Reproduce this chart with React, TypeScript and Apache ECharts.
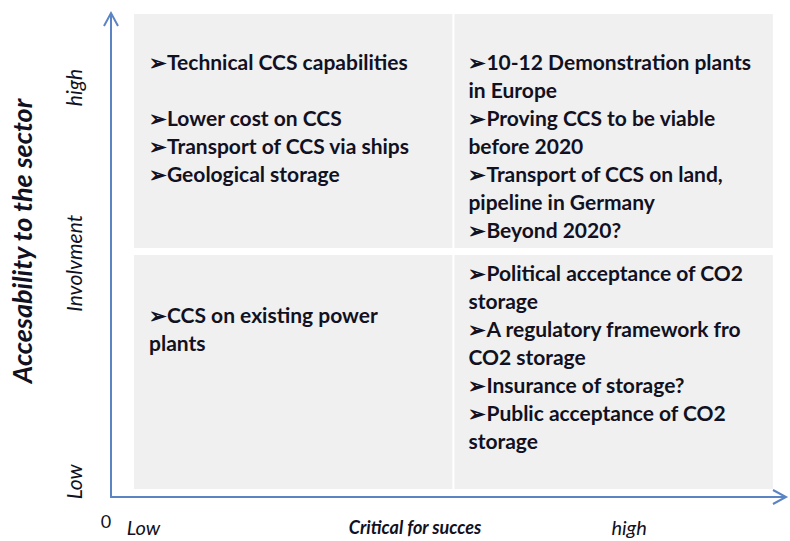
import React, { useEffect, useRef } from "react";
import * as echarts from "echarts";

// Quadrant grid cells (column = critical for success, row = accessibility)
const quadrantCols = [0, 1, 0, 1];
const quadrantRows = [1, 1, 0, 0];
const quadrantLines: string[][] = [
  ["➢Technical CCS capabilities", "", "➢Lower cost on CCS", "➢Transport of CCS via ships", "➢Geological storage"],
  [
    "➢10-12 Demonstration plants",
    "in Europe",
    "➢Proving CCS to be viable",
    "before 2020",
    "➢Transport of CCS on land,",
    "pipeline in Germany",
    "➢Beyond 2020?",
  ],
  ["➢CCS on existing power", "plants"],
  [
    "➢Political acceptance of CO2",
    "storage",
    "➢A regulatory framework fro",
    "CO2 storage",
    "➢Insurance of storage?",
    "➢Public acceptance of CO2",
    "storage",
  ],
];

// Axis tick labels
const xTickValues = [0.03, 0.88, 1.55];
const xTickLabels = ["Low", "Critical for succes", "high"];
const yTickValues = [0.03, 0.95, 1.69];
const yTickLabels = ["Low", "Involvment", "high"];
const yTitle = "Accesability to the sector";
const originLabel = "0";

// Layout / style (not data)
const textTop = [33, 33, 46, 4];
const textLeft = [15, 14, 15, 14];
const AXIS_COLOR = "#5b84c4";
const TEXT_COLOR = "#111122";
const FONT = "Lato, 'Noto Sans', sans-serif";

export default function App() {
  const ref = useRef<HTMLDivElement>(null);
  useEffect(() => {
    if (!ref.current) return;
    const chart = echarts.init(ref.current, undefined, { renderer: "svg" });
    const data = quadrantCols.map((c, i) => [c, quadrantRows[i], i]);
    const option: any = {
      animation: false,
      backgroundColor: "#ffffff",
      grid: { left: 111, right: 5, top: 14, bottom: 44 },
      xAxis: {
        type: "value",
        min: -0.072,
        max: 2.038,
        splitLine: { show: false },
        axisLine: { show: true, onZero: false, lineStyle: { color: AXIS_COLOR, width: 2 } },
        axisTick: { show: false },
        axisLabel: {
          show: true,
          customValues: xTickValues,
          margin: 20,
          fontFamily: FONT,
          fontSize: 20,
          lineHeight: 20,
          fontStyle: "italic",
          color: TEXT_COLOR,
          formatter: (v: number) => {
            const i = xTickValues.findIndex((t) => Math.abs(t - v) < 1e-6);
            if (i < 0) return "";
            return i === 1 ? "{b|" + xTickLabels[i] + "}" : xTickLabels[i];
          },
          rich: {
            b: { fontFamily: FONT, fontSize: 18, lineHeight: 20, fontStyle: "italic", fontWeight: "bold", color: TEXT_COLOR },
          },
        },
      },
      yAxis: {
        type: "value",
        min: -0.034,
        max: 2,
        splitLine: { show: false },
        axisLine: { show: true, onZero: false, lineStyle: { color: AXIS_COLOR, width: 2 } },
        axisTick: { show: false },
        axisLabel: {
          show: true,
          customValues: yTickValues,
          rotate: 90,
          margin: 27,
          fontFamily: FONT,
          fontSize: 21,
          fontStyle: "italic",
          color: TEXT_COLOR,
          formatter: (v: number) => {
            const i = yTickValues.findIndex((t) => Math.abs(t - v) < 1e-6);
            return i < 0 ? "" : yTickLabels[i];
          },
        },
      },
      series: [
        {
          type: "custom",
          data,
          clip: false,
          renderItem: (params: any, api: any) => {
            const col = api.value(0);
            const row = api.value(1);
            const idx = api.value(2);
            const tl = api.coord([col, row + 1]);
            const br = api.coord([col + 1, row]);
            let x0 = tl[0], y0 = tl[1], x1 = br[0], y1 = br[1];
            if (col === 0) x1 -= 1; else x0 += 1;
            if (row === 1) y1 -= 3.5; else y0 += 3.5;
            return {
              type: "group",
              children: [
                { type: "rect", shape: { x: x0, y: y0, width: x1 - x0, height: y1 - y0 }, style: { fill: "#f0f0f0" } },
                {
                  type: "text",
                  x: x0 + textLeft[idx],
                  y: y0 + textTop[idx],
                  style: {
                    text: quadrantLines[idx].join("\n"),
                    fill: TEXT_COLOR,
                    fontFamily: FONT,
                    fontSize: 21,
                    fontWeight: "bold",
                    lineHeight: 28,
                    verticalAlign: "top",
                    align: "left",
                  },
                },
              ],
            };
          },
        },
      ],
      graphic: [
        {
          type: "polyline",
          shape: { points: [[104, 26], [111, 13], [118, 26]] },
          style: { stroke: AXIS_COLOR, lineWidth: 2, fill: "none" },
        },
        {
          type: "polyline",
          shape: { points: [[773, 490], [786, 497], [773, 504]] },
          style: { stroke: AXIS_COLOR, lineWidth: 2, fill: "none" },
        },
        {
          type: "text",
          x: 106,
          y: 521,
          style: { text: originLabel, fill: TEXT_COLOR, fontFamily: FONT, fontSize: 18, align: "center", verticalAlign: "middle" },
        },
        {
          type: "text",
          x: 21,
          y: 241,
          rotation: Math.PI / 2,
          style: {
            text: yTitle,
            fill: TEXT_COLOR,
            fontFamily: FONT,
            fontSize: 27,
            fontWeight: "bold",
            fontStyle: "italic",
            align: "center",
            verticalAlign: "middle",
          },
        },
      ],
    };
    chart.setOption(option);
    return () => chart.dispose();
  }, []);
  return <div ref={ref} style={{ width: 790, height: 541, position: "absolute", left: 0, top: 0 }} />;
}
